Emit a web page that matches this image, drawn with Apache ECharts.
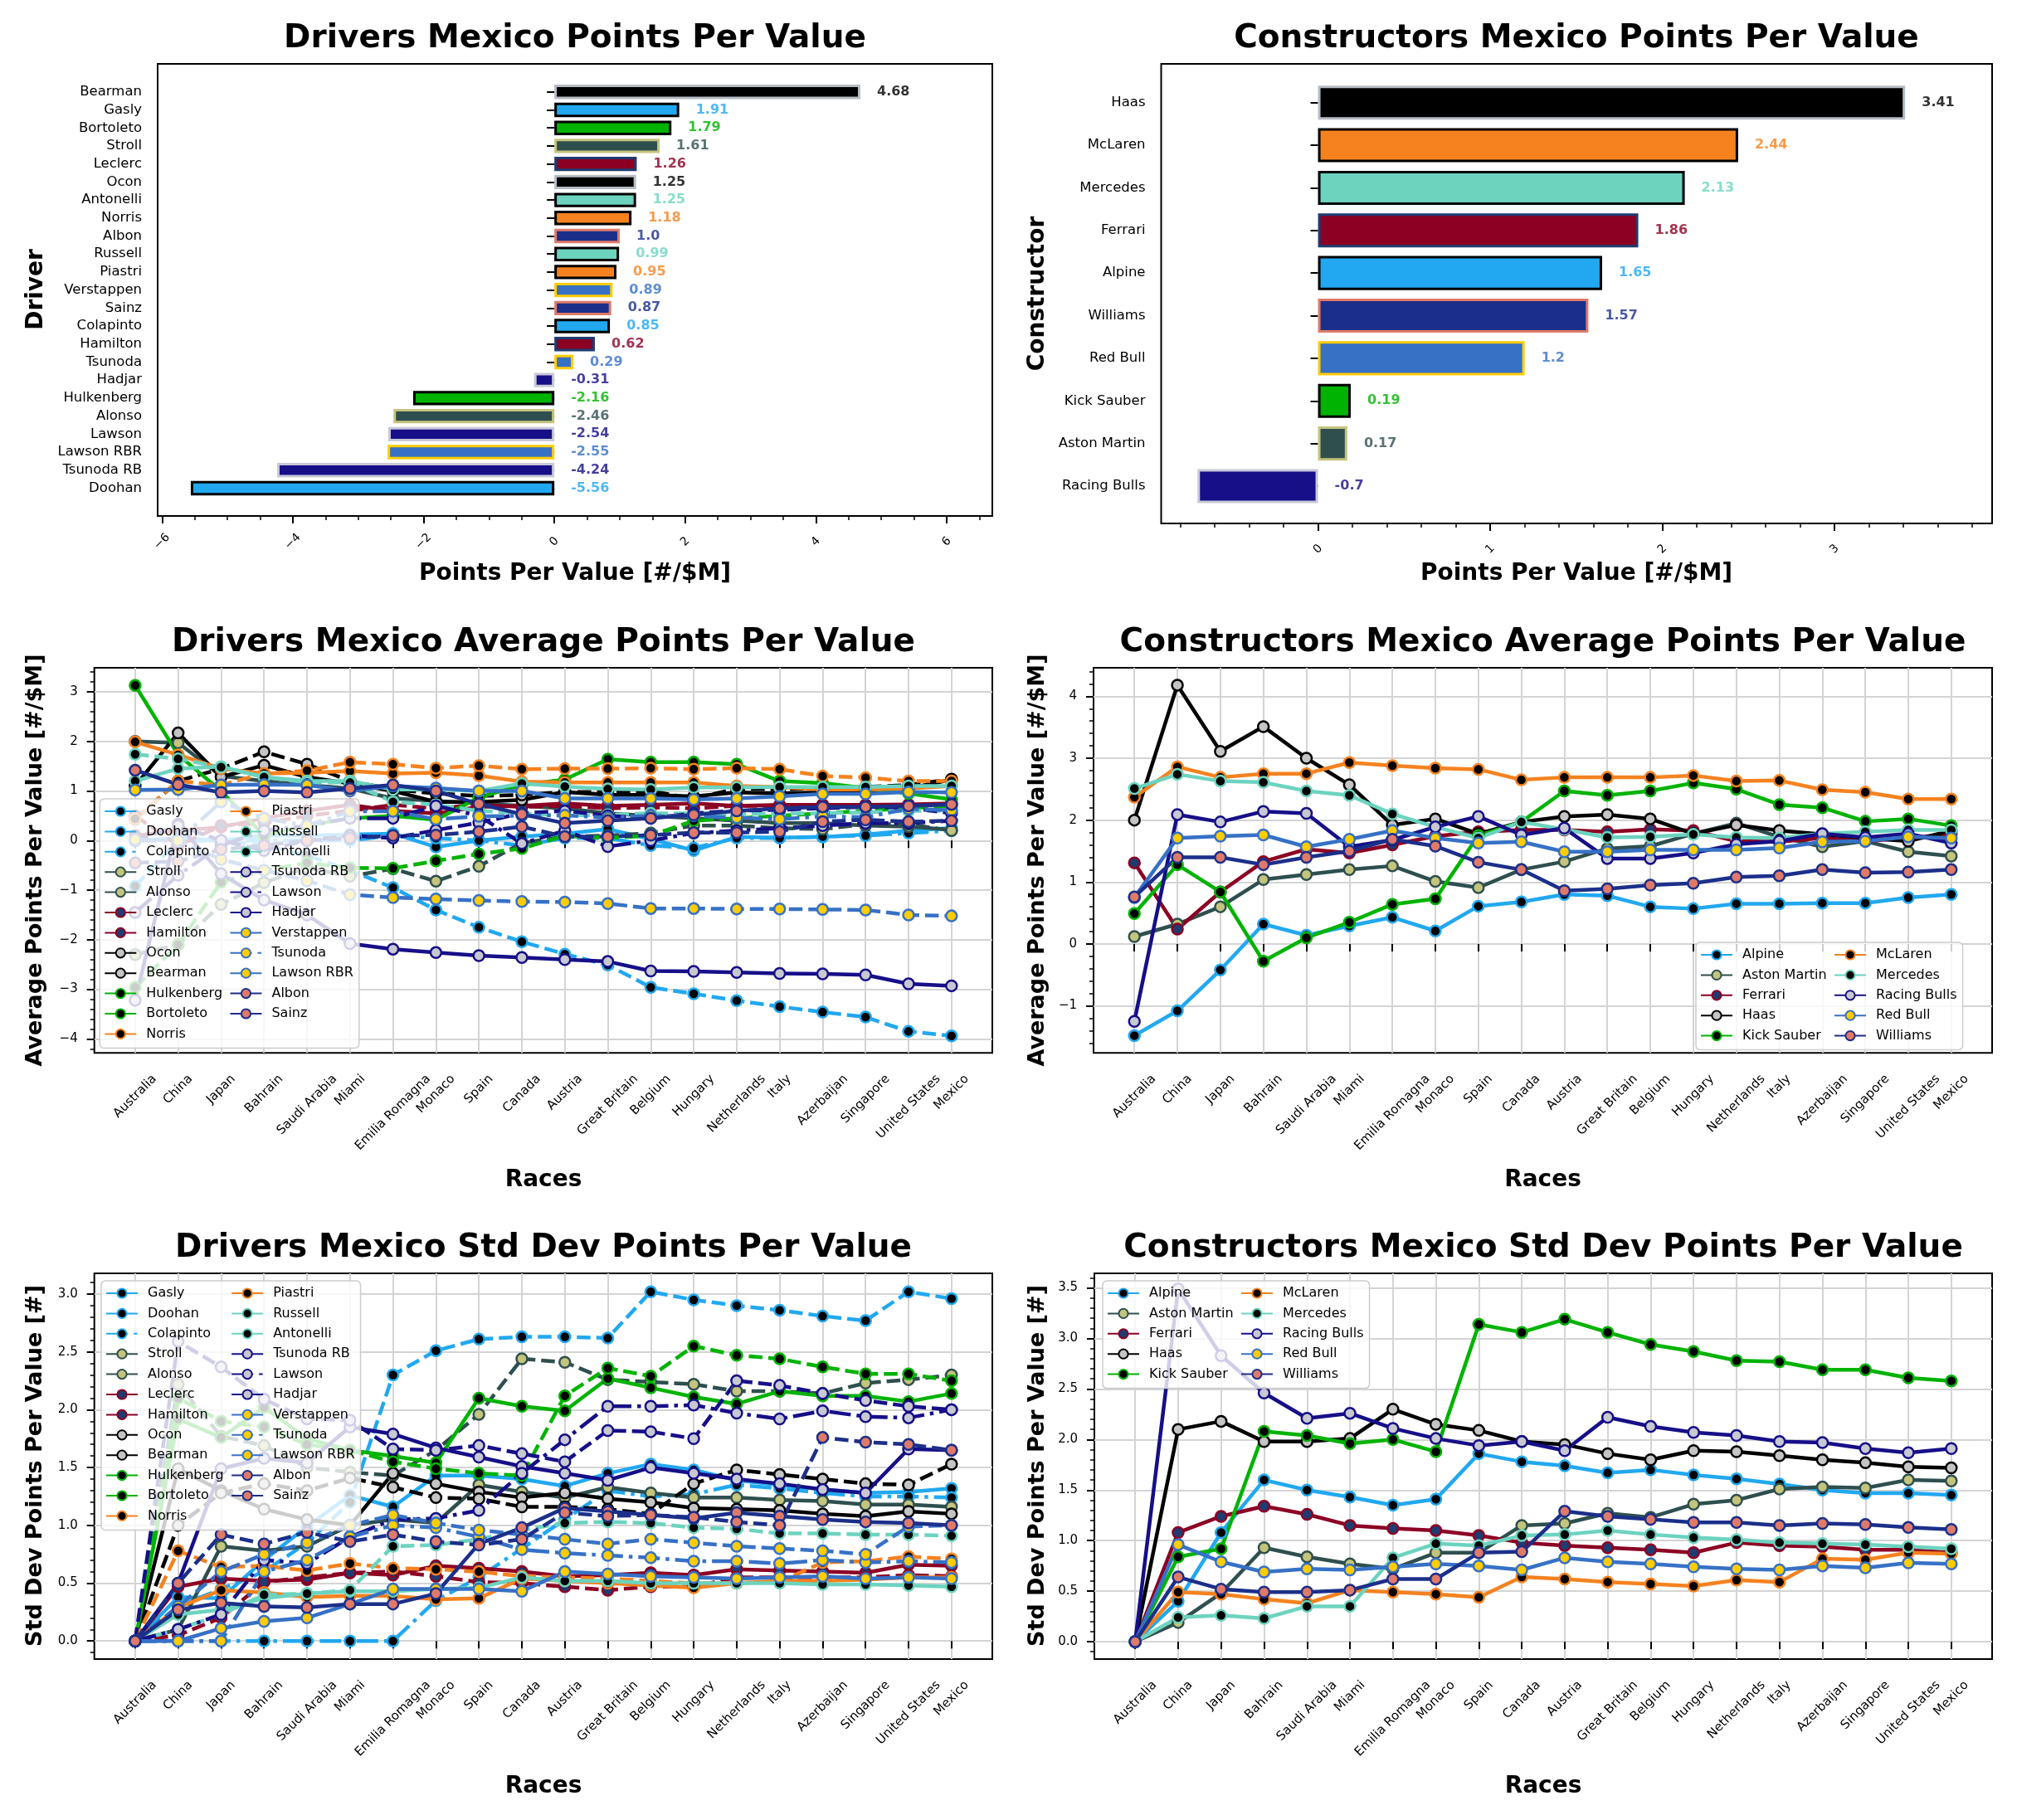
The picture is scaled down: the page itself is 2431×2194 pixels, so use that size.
<!DOCTYPE html>
<html><head><meta charset="utf-8">
<script src="https://cdn.jsdelivr.net/npm/echarts@6.0.0/dist/echarts.min.js"></script>
<style>html,body{margin:0;padding:0;background:#fff;}#chart{width:2431px;height:2194px;}</style>
</head><body><div id="chart"></div>
<script>
// ---------------- DATA ----------------
const races = ['Australia','China','Japan','Bahrain','Saudi Arabia','Miami','Emilia Romagna','Monaco','Spain','Canada','Austria','Great Britain','Belgium','Hungary','Netherlands','Italy','Azerbaijan','Singapore','United States','Mexico'];

const barDrivers = ['Bearman','Gasly','Bortoleto','Stroll','Leclerc','Ocon','Antonelli','Norris','Albon','Russell','Piastri','Verstappen','Sainz','Colapinto','Hamilton','Tsunoda','Hadjar','Hulkenberg','Alonso','Lawson','Lawson RBR','Tsunoda RB','Doohan'];
const barDriverValues = [4.68,1.91,1.79,1.61,1.26,1.25,1.25,1.18,1.0,0.99,0.95,0.89,0.87,0.85,0.62,0.29,-0.31,-2.16,-2.46,-2.54,-2.55,-4.24,-5.56];

const barTeams = ['Haas','McLaren','Mercedes','Ferrari','Alpine','Williams','Red Bull','Kick Sauber','Aston Martin','Racing Bulls'];
const barTeamValues = [3.41,2.44,2.13,1.86,1.65,1.57,1.2,0.19,0.17,-0.7];

const legendDrivers = ['Gasly','Doohan','Colapinto','Stroll','Alonso','Leclerc','Hamilton','Ocon','Bearman','Hulkenberg','Bortoleto','Norris','Piastri','Russell','Antonelli','Tsunoda RB','Lawson','Hadjar','Verstappen','Tsunoda','Lawson RBR','Albon','Sainz'];
const legendTeams = ['Alpine','Aston Martin','Ferrari','Haas','Kick Sauber','McLaren','Mercedes','Racing Bulls','Red Bull','Williams'];

// drivers: average points per value
const avgGasly      = [0.00,0.05,0.00,0.10,0.10,0.12,0.14,-0.13,0.00,0.08,0.14,0.23,0.03,-0.20,0.07,0.06,0.07,0.12,0.20,0.25];
const avgDoohan     = [-0.92,0.00,0.00,-0.10,-0.30,-0.60,-0.95,-1.40,-1.75,-2.04,-2.29,-2.51,-2.96,-3.09,-3.23,-3.35,-3.46,-3.56,-3.85,-3.94];
const avgColapinto  = [0,0,0,0,0,0,0.10,0.05,0.00,-0.10,0.05,0.05,-0.10,-0.15,0.05,0.05,0.08,0.10,0.15,0.20];
const avgStroll     = [2.00,1.97,1.30,1.20,1.12,1.05,0.85,0.80,0.75,0.70,0.65,0.55,0.50,0.45,0.40,0.35,0.35,0.30,0.28,0.22];
const avgAlonso     = [-2.30,-2.10,-1.29,-0.85,-0.55,-0.72,-0.57,-0.82,-0.52,-0.05,0.08,0.10,0.15,0.30,0.30,0.25,0.23,0.33,0.33,0.20];
const avgLeclerc    = [0.10,0.20,0.27,0.45,0.60,0.72,0.60,0.55,0.68,0.70,0.75,0.70,0.72,0.75,0.70,0.72,0.72,0.72,0.73,0.75];
const avgHamilton   = [0.50,-0.10,0.30,0.35,0.50,0.60,0.72,0.65,0.72,0.68,0.70,0.65,0.67,0.65,0.70,0.70,0.72,0.68,0.70,0.72];
const avgOcon       = [1.10,2.17,1.28,1.52,1.28,1.15,1.00,0.78,0.78,0.82,0.98,0.92,0.92,0.89,0.97,0.95,0.97,1.00,1.05,1.23];
const avgBearman    = [0.43,1.20,1.45,1.79,1.54,1.20,1.03,0.95,0.90,0.92,0.98,0.98,1.00,0.84,1.05,1.03,1.06,1.08,1.12,1.24];
const avgHulkenberg = [3.13,1.73,1.00,0.10,0.30,0.45,0.50,0.42,0.87,1.12,1.23,1.64,1.58,1.58,1.54,1.20,1.16,1.06,0.95,0.83];
const avgBortoleto  = [-2.96,-2.10,-0.84,-0.60,-0.45,-0.55,-0.56,-0.41,-0.27,-0.16,0.10,0.05,0.10,0.40,0.45,0.50,0.55,0.60,0.65,0.70];
const avgNorris     = [1.99,1.73,1.45,1.35,1.37,1.40,1.35,1.37,1.31,1.19,1.17,1.17,1.17,1.17,1.10,1.08,1.03,1.03,1.05,1.10];
const avgPiastri    = [0.44,1.20,1.12,1.35,1.41,1.58,1.54,1.46,1.51,1.44,1.45,1.45,1.46,1.44,1.46,1.44,1.30,1.27,1.20,1.20];
const avgRussell    = [1.20,1.45,1.49,1.28,1.20,1.20,1.03,1.03,1.00,1.15,1.09,1.04,1.03,1.07,1.07,1.08,1.08,1.08,1.10,1.10];
const avgAntonelli  = [1.74,1.65,1.48,1.28,1.17,1.17,0.78,0.72,0.60,0.55,0.50,0.52,0.55,0.55,0.53,0.55,0.55,0.57,0.60,0.60];
const avgTsunodaRB  = [-3.22,0.33,-0.67,-1.20,-1.50,-2.08,-2.19,-2.26,-2.32,-2.36,-2.40,-2.44,-2.63,-2.64,-2.66,-2.68,-2.69,-2.71,-2.89,-2.93];
const avgLawson     = [-1.45,-0.70,-0.10,0.20,0.30,0.45,0.45,0.70,0.50,-0.06,0.20,-0.12,0.00,0.15,0.20,0.25,0.30,0.35,0.35,0.40];
const avgHadjar     = [0.00,0.30,0.00,-0.20,0.00,0.10,0.05,0.21,0.36,0.55,0.60,0.50,0.45,0.55,0.60,0.62,0.65,0.68,0.66,0.55];
const avgVerstappen = [1.02,1.03,1.12,1.13,1.12,1.00,1.10,1.06,1.00,1.00,0.85,0.85,0.85,0.83,0.85,0.89,0.94,0.94,0.98,0.97];
const avgTsunoda    = [0.00,0.00,0.78,0.45,0.30,0.59,0.59,0.43,0.49,0.50,0.51,0.46,0.50,0.50,0.46,0.43,0.49,0.47,0.64,0.61];
const avgLawsonRBR  = [0.02,0.00,-0.38,-0.60,-0.81,-1.09,-1.15,-1.18,-1.21,-1.23,-1.24,-1.27,-1.37,-1.37,-1.38,-1.38,-1.39,-1.40,-1.50,-1.52];
const avgAlbon      = [1.42,1.13,0.97,1.00,0.97,1.05,1.12,1.00,0.74,0.53,0.35,0.40,0.45,0.52,0.60,0.65,0.68,0.68,0.70,0.73];
const avgSainz      = [-0.45,-0.42,-0.18,-0.10,0.00,0.05,0.10,0.11,0.18,0.28,0.08,0.08,0.11,0.16,0.16,0.18,0.38,0.42,0.38,0.40];

// drivers: std dev points per value
const stdGasly      = [0,0.38,0.37,0.70,0.99,1.26,1.16,1.43,1.43,1.40,1.34,1.45,1.53,1.48,1.39,1.35,1.31,1.28,1.29,1.32];
const stdDoohan     = [0,0.30,0.45,0.60,0.85,1.20,2.30,2.51,2.61,2.63,2.63,2.62,3.02,2.95,2.90,2.86,2.81,2.77,3.02,2.96];
const stdColapinto  = [0,0,0,0,0,0,0,0.35,0.55,0.80,1.05,1.30,1.25,1.27,1.35,1.32,1.28,1.25,1.25,1.24];
const stdStroll     = [0,0.10,0.82,0.78,0.82,1.00,1.05,1.02,1.35,1.29,1.24,1.33,1.28,1.24,1.24,1.22,1.21,1.18,1.18,1.16];
const stdAlonso     = [0,2.22,1.77,1.69,1.50,1.46,1.43,1.65,1.96,2.44,2.41,2.26,2.24,2.22,2.16,2.16,2.14,2.23,2.26,2.30];
const stdLeclerc    = [0,0.47,0.54,0.52,0.53,0.59,0.57,0.65,0.63,0.60,0.56,0.57,0.59,0.57,0.62,0.61,0.60,0.59,0.66,0.65];
const stdHamilton   = [0,0.05,0.20,0.51,0.55,0.59,0.60,0.56,0.51,0.50,0.47,0.44,0.47,0.47,0.55,0.55,0.55,0.55,0.57,0.56];
const stdOcon       = [0,1.49,1.30,1.14,1.05,1.00,1.45,1.36,1.29,1.24,1.28,1.23,1.20,1.15,1.14,1.13,1.10,1.08,1.12,1.10];
const stdBearman    = [0,1.00,1.28,1.36,1.30,1.41,1.33,1.24,1.23,1.16,1.16,1.14,1.10,1.36,1.48,1.44,1.40,1.36,1.35,1.53];
const stdHulkenberg = [0,1.92,1.76,2.02,1.75,1.65,1.60,1.54,2.10,2.03,1.99,2.27,2.19,2.11,2.05,2.16,2.12,2.12,2.07,2.14];
const stdBortoleto  = [0,2.10,1.90,1.85,1.70,1.65,1.55,1.49,1.45,1.43,2.12,2.36,2.29,2.55,2.47,2.44,2.37,2.31,2.31,2.25];
const stdNorris     = [0,0.29,0.44,0.42,0.38,0.39,0.39,0.36,0.37,0.54,0.52,0.50,0.48,0.46,0.50,0.52,0.52,0.53,0.55,0.55];
const stdPiastri    = [0,0.78,0.64,0.65,0.61,0.67,0.63,0.62,0.60,0.56,0.55,0.54,0.52,0.50,0.50,0.51,0.68,0.69,0.73,0.71];
const stdRussell    = [0,0.23,0.27,0.37,0.41,0.43,0.43,0.45,0.46,0.55,0.52,0.52,0.50,0.50,0.50,0.50,0.49,0.49,0.48,0.47];
const stdAntonelli  = [0,0.10,0.23,0.40,0.41,0.44,0.82,0.83,0.88,0.96,1.02,1.03,1.02,0.98,0.97,0.93,0.93,0.92,0.92,0.91];
const stdTsunodaRB  = [0,0.50,1.49,1.58,1.54,1.85,1.79,1.67,1.59,1.51,1.45,1.39,1.50,1.45,1.40,1.36,1.31,1.28,1.66,1.65];
const stdLawson     = [0,0.10,0.23,0.70,0.67,0.90,1.05,1.06,1.13,1.45,1.74,2.03,2.03,2.04,1.97,1.92,1.99,1.94,1.93,2.00];
const stdHadjar     = [0,2.59,2.37,2.09,1.92,1.91,1.66,1.65,1.69,1.62,1.55,1.82,1.81,1.75,2.25,2.21,2.14,2.08,2.03,2.00];
const stdVerstappen = [0,0,0.11,0.17,0.20,0.32,0.45,0.45,0.45,0.43,0.60,0.58,0.56,0.55,0.54,0.55,0.56,0.54,0.55,0.54];
const stdTsunoda    = [0,0,0,0.60,0.70,0.90,1.00,0.98,0.90,0.79,0.76,0.74,0.72,0.69,0.69,0.67,0.70,0.68,0.69,0.68];
const stdLawsonRBR  = [0,0.30,0.60,0.75,0.85,1.00,1.09,1.02,0.96,0.92,0.88,0.84,0.88,0.85,0.82,0.80,0.78,0.75,0.99,1.00];
const stdAlbon      = [0,0.27,0.33,0.30,0.29,0.32,0.32,0.41,0.84,0.98,1.15,1.12,1.09,1.06,1.11,1.08,1.05,1.03,1.02,1.00];
const stdSainz      = [0,0.50,0.92,0.84,0.94,0.86,0.92,0.86,0.83,0.88,1.11,1.08,1.09,1.07,1.03,1.00,1.76,1.72,1.70,1.65];

// constructors: average points per value
const avgAlpine      = [-1.48,-1.08,-0.42,0.32,0.14,0.29,0.43,0.21,0.61,0.68,0.80,0.78,0.60,0.57,0.65,0.65,0.66,0.66,0.75,0.80];
const avgAstonMartin = [0.12,0.32,0.60,1.04,1.12,1.20,1.26,1.01,0.91,1.20,1.33,1.54,1.58,1.78,1.95,1.73,1.57,1.66,1.49,1.42];
const avgFerrari     = [1.31,0.24,0.84,1.33,1.53,1.47,1.60,1.74,1.81,1.84,1.84,1.81,1.85,1.83,1.66,1.65,1.71,1.66,1.71,1.77];
const avgHaas        = [2.00,4.18,3.11,3.51,3.00,2.57,1.92,2.02,1.78,1.97,2.06,2.09,2.02,1.78,1.92,1.83,1.77,1.71,1.66,1.83];
const avgKickSauber  = [0.49,1.28,0.84,-0.28,0.10,0.35,0.64,0.73,1.75,1.97,2.47,2.40,2.47,2.60,2.50,2.25,2.20,1.98,2.02,1.91];
const avgMcLaren     = [2.37,2.86,2.69,2.75,2.75,2.93,2.88,2.84,2.82,2.65,2.69,2.69,2.69,2.72,2.63,2.64,2.49,2.45,2.34,2.34];
const avgMercedes    = [2.51,2.74,2.63,2.61,2.47,2.40,2.10,1.89,1.71,1.97,1.85,1.72,1.73,1.77,1.72,1.71,1.78,1.81,1.84,1.84];
const avgRacingBulls = [-1.25,2.09,1.97,2.14,2.11,1.57,1.68,1.89,2.06,1.76,1.87,1.38,1.38,1.47,1.61,1.66,1.78,1.72,1.78,1.63];
const avgRedBull     = [0.75,1.71,1.74,1.76,1.57,1.69,1.83,1.71,1.63,1.65,1.49,1.49,1.52,1.52,1.52,1.55,1.65,1.66,1.73,1.71];
const avgWilliams    = [0.76,1.40,1.40,1.28,1.40,1.50,1.69,1.58,1.32,1.20,0.86,0.89,0.95,0.98,1.08,1.10,1.20,1.15,1.16,1.20];

// constructors: std dev points per value
const stdAlpine      = [0,0.40,1.08,1.60,1.50,1.43,1.35,1.41,1.86,1.78,1.74,1.67,1.70,1.65,1.61,1.56,1.50,1.47,1.47,1.45];
const stdAstonMartin = [0,0.19,0.48,0.93,0.84,0.77,0.72,0.88,0.88,1.15,1.17,1.27,1.23,1.36,1.40,1.51,1.53,1.52,1.60,1.59];
const stdFerrari     = [0,1.08,1.24,1.34,1.26,1.15,1.12,1.10,1.05,0.98,0.95,0.93,0.91,0.88,0.98,0.95,0.94,0.91,0.91,0.88];
const stdHaas        = [0,2.10,2.18,1.98,1.98,2.01,2.30,2.15,2.09,1.98,1.95,1.86,1.80,1.89,1.88,1.84,1.80,1.77,1.73,1.72];
const stdKickSauber  = [0,0.84,0.92,2.08,2.04,1.96,2.00,1.88,3.14,3.06,3.19,3.06,2.94,2.87,2.78,2.77,2.69,2.69,2.61,2.58];
const stdMcLaren     = [0,0.49,0.47,0.42,0.38,0.51,0.49,0.47,0.44,0.64,0.62,0.59,0.57,0.55,0.61,0.59,0.82,0.81,0.88,0.87];
const stdMercedes    = [0,0.24,0.26,0.23,0.35,0.35,0.83,0.97,0.95,1.05,1.06,1.10,1.06,1.03,1.01,0.98,0.97,0.96,0.94,0.92];
const stdRacingBulls = [0,3.49,2.83,2.46,2.21,2.26,2.11,2.01,1.94,1.98,1.89,2.22,2.13,2.07,2.04,1.98,1.97,1.91,1.87,1.91];
const stdRedBull     = [0,0.96,0.79,0.69,0.72,0.71,0.74,0.77,0.75,0.71,0.83,0.79,0.77,0.74,0.72,0.71,0.75,0.73,0.78,0.77];
const stdWilliams    = [0,0.64,0.52,0.49,0.49,0.51,0.62,0.62,0.88,0.89,1.29,1.24,1.21,1.18,1.18,1.15,1.17,1.16,1.13,1.11];

const avgTicksDrivers = [-4,-3,-2,-1,0,1,2,3];
const avgTicksTeams = [-1,0,1,2,3,4];
const stdTicksDrivers = [0,0.5,1,1.5,2,2.5,3];
const stdTicksTeams = [0,0.5,1,1.5,2,2.5,3,3.5];
const barTicksDrivers = [-6,-4,-2,0,2,4,6];
const barTicksTeams = [0,1,2,3];

// ---------------- STYLE ----------------
const FONT = 'DejaVu Sans';
const TEAM = {
  'Alpine':       {line:'#21a8f0', fill:'#000000', edge:'#000000'},
  'Aston Martin': {line:'#2f4f4f', fill:'#c4c47c', edge:'#c4c47c'},
  'Ferrari':      {line:'#8c0023', fill:'#1e3c72', edge:'#1e3c72'},
  'Haas':         {line:'#000000', fill:'#c4c4c4', edge:'#b6bcc3'},
  'Kick Sauber':  {line:'#00b300', fill:'#000000', edge:'#000000'},
  'McLaren':      {line:'#f5821f', fill:'#000000', edge:'#000000'},
  'Mercedes':     {line:'#6cd3bf', fill:'#000000', edge:'#000000'},
  'Racing Bulls': {line:'#160f88', fill:'#c8c8d0', edge:'#c8c8d8'},
  'Red Bull':     {line:'#3671c6', fill:'#ffcc00', edge:'#ffcc00'},
  'Williams':     {line:'#1b2f8a', fill:'#e07a68', edge:'#e07a68'}
};
const DRIVER_TEAM = {Gasly:'Alpine',Doohan:'Alpine',Colapinto:'Alpine',Stroll:'Aston Martin',Alonso:'Aston Martin',Leclerc:'Ferrari',Hamilton:'Ferrari',Ocon:'Haas',Bearman:'Haas',Hulkenberg:'Kick Sauber',Bortoleto:'Kick Sauber',Norris:'McLaren',Piastri:'McLaren',Russell:'Mercedes',Antonelli:'Mercedes','Tsunoda RB':'Racing Bulls',Lawson:'Racing Bulls',Hadjar:'Racing Bulls',Verstappen:'Red Bull',Tsunoda:'Red Bull','Lawson RBR':'Red Bull',Albon:'Williams',Sainz:'Williams'};
const DASH = {solid:'solid', dash:[16.5,7], dashdot:[26,7,4.5,7]};
const DRIVER_DASH = {Gasly:'solid',Doohan:'dash',Colapinto:'dashdot',Stroll:'solid',Alonso:'dash',Leclerc:'solid',Hamilton:'dash',Ocon:'solid',Bearman:'dash',Hulkenberg:'solid',Bortoleto:'dash',Norris:'solid',Piastri:'dash',Russell:'solid',Antonelli:'dash','Tsunoda RB':'solid',Lawson:'dashdot',Hadjar:'dash',Verstappen:'solid',Tsunoda:'dashdot','Lawson RBR':'dash',Albon:'solid',Sainz:'dash'};

const AVG_DRIVER = {Gasly:avgGasly,Doohan:avgDoohan,Colapinto:avgColapinto,Stroll:avgStroll,Alonso:avgAlonso,Leclerc:avgLeclerc,Hamilton:avgHamilton,Ocon:avgOcon,Bearman:avgBearman,Hulkenberg:avgHulkenberg,Bortoleto:avgBortoleto,Norris:avgNorris,Piastri:avgPiastri,Russell:avgRussell,Antonelli:avgAntonelli,'Tsunoda RB':avgTsunodaRB,Lawson:avgLawson,Hadjar:avgHadjar,Verstappen:avgVerstappen,Tsunoda:avgTsunoda,'Lawson RBR':avgLawsonRBR,Albon:avgAlbon,Sainz:avgSainz};
const STD_DRIVER = {Gasly:stdGasly,Doohan:stdDoohan,Colapinto:stdColapinto,Stroll:stdStroll,Alonso:stdAlonso,Leclerc:stdLeclerc,Hamilton:stdHamilton,Ocon:stdOcon,Bearman:stdBearman,Hulkenberg:stdHulkenberg,Bortoleto:stdBortoleto,Norris:stdNorris,Piastri:stdPiastri,Russell:stdRussell,Antonelli:stdAntonelli,'Tsunoda RB':stdTsunodaRB,Lawson:stdLawson,Hadjar:stdHadjar,Verstappen:stdVerstappen,Tsunoda:stdTsunoda,'Lawson RBR':stdLawsonRBR,Albon:stdAlbon,Sainz:stdSainz};
const AVG_TEAM = {'Alpine':avgAlpine,'Aston Martin':avgAstonMartin,'Ferrari':avgFerrari,'Haas':avgHaas,'Kick Sauber':avgKickSauber,'McLaren':avgMcLaren,'Mercedes':avgMercedes,'Racing Bulls':avgRacingBulls,'Red Bull':avgRedBull,'Williams':avgWilliams};
const STD_TEAM = {'Alpine':stdAlpine,'Aston Martin':stdAstonMartin,'Ferrari':stdFerrari,'Haas':stdHaas,'Kick Sauber':stdKickSauber,'McLaren':stdMcLaren,'Mercedes':stdMercedes,'Racing Bulls':stdRacingBulls,'Red Bull':stdRedBull,'Williams':stdWilliams};

const F = {
  TL:{left:190, top:77, right:1196, bottom:622},
  TR:{left:1399.5, top:77, right:2401, bottom:631},
  ML:{left:113.7, top:805, right:1196, bottom:1269.3},
  MR:{left:1318, top:805, right:2401, bottom:1269.3},
  BL:{left:113.7, top:1535, right:1196, bottom:2000},
  BR:{left:1319, top:1535, right:2401, bottom:2000}
};

// ---------------- BUILD ----------------
const grid=[], xAxis=[], yAxis=[], series=[], legend=[], graphic=[];
const raceLabelAxes = [];
const minus = v => (v < 0 ? '\u2212' : '') + Math.abs(v);
const oneDec = v => v.toFixed(1);
function range(a, b, s){ const out=[]; for(let v=a; v<=b+1e-9; v+=s) out.push(Math.round(v*1000)/1000); return out; }

function addGrid(l,t,r,b,show){
  grid.push({left:l, top:t, width:r-l, height:b-t, show:!!show, borderColor:'#000', borderWidth:2,
    backgroundColor:'rgba(0,0,0,0)', containLabel:false, outerBoundsMode:'none'});
  return grid.length-1;
}

const LABEL_FS = 15;
const mctx = document.createElement('canvas').getContext('2d');
mctx.font = LABEL_FS + 'px "' + FONT + '"';

function barChart(f, names, values, teamOf, min, max, majors, minors, dataTop, dataBottom){
  const gf = addGrid(f.left, f.top, f.right, f.bottom, true);
  xAxis.push({gridIndex:gf, type:'value', min, max, position:'bottom', axisLine:{show:false}, splitLine:{show:false},
    axisTick:{show:true, customValues:majors, length:9, lineStyle:{color:'#000', width:2}},
    axisLabel:{show:true, customValues:majors, rotate:45, align:'center', verticalAlign:'middle', margin:31,
      fontSize:14, color:'#000', fontFamily:FONT, formatter:minus}});
  xAxis.push({gridIndex:gf, type:'value', min, max, position:'bottom', axisLine:{show:false}, splitLine:{show:false},
    axisTick:{show:true, customValues:minors, length:5, lineStyle:{color:'#000', width:1.5}}, axisLabel:{show:false}});
  yAxis.push({gridIndex:gf, type:'value', min:0, max:1, show:false});
  const gd = addGrid(f.left, dataTop, f.right, dataBottom, false);
  const xi = xAxis.push({gridIndex:gd, type:'value', min, max, show:false}) - 1;
  const yi = yAxis.push({gridIndex:gd, type:'category', data:names, inverse:true, position:'left',
    axisLine:{show:false}, splitLine:{show:false},
    axisTick:{show:true, alignWithLabel:true, length:9, lineStyle:{color:'#000', width:2}},
    axisLabel:{interval:0, fontSize:16.5, color:'#000', margin:19, fontFamily:FONT}}) - 1;
  series.push({type:'bar', xAxisIndex:xi, yAxisIndex:yi, barCategoryGap:'20%', silent:true, animation:false,
    data: values.map((v,i) => { const t = TEAM[teamOf(names[i])];
      return {value:v, itemStyle:{color:t.line, borderColor:t.edge, borderWidth:3}}; })});
  series.push({type:'scatter', xAxisIndex:xi, yAxisIndex:yi, symbolSize:0.1, silent:true, animation:false,
    itemStyle:{color:'rgba(0,0,0,0)'},
    label:{show:true, position:'right', distance:20, fontSize:16, fontWeight:'bold', fontFamily:FONT},
    data: values.map((v,i) => { const t = TEAM[teamOf(names[i])];
      return {value:[Math.max(v,0), names[i]],
        label:{color:t.line, formatter:(Number.isInteger(v) ? v.toFixed(1) : String(v))}}; })});
}

function lineChart(f, ymin, ymax, majors, minors, fmt, names, dataOf, styleOf){
  const gf = addGrid(f.left, f.top, f.right, f.bottom, true);
  xAxis.push({gridIndex:gf, type:'value', min:0, max:1, show:false});
  yAxis.push({gridIndex:gf, type:'value', min:ymin, max:ymax, position:'left', axisLine:{show:false},
    axisTick:{show:true, customValues:majors, length:9, lineStyle:{color:'#000', width:2}},
    axisLabel:{show:true, customValues:majors, formatter:fmt, fontSize:15, color:'#000', margin:20, fontFamily:FONT},
    splitLine:{show:true, customValues:majors, lineStyle:{color:'#d4d4d4', width:2}}});
  yAxis.push({gridIndex:gf, type:'value', min:ymin, max:ymax, position:'left', axisLine:{show:false}, splitLine:{show:false},
    axisTick:{show:true, customValues:minors, length:5, lineStyle:{color:'#000', width:1.5}}, axisLabel:{show:false}});
  const inset = 0.95 * (f.right - f.left) / 20.9;
  const gd = addGrid(f.left + inset, f.top, f.right - inset, f.bottom, false);
  const xi = xAxis.push({gridIndex:gd, type:'category', data:races, boundaryGap:false, position:'bottom',
    axisLine:{show:false},
    axisTick:{show:true, interval:0, length:9, lineStyle:{color:'#000', width:2}},
    axisLabel:{show:false},
    splitLine:{show:true, interval:0, lineStyle:{color:'#d4d4d4', width:2}}}) - 1;
  const yi = yAxis.push({gridIndex:gd, type:'value', min:ymin, max:ymax, show:false}) - 1;
  raceLabelAxes.push({xi, bottom:f.bottom});
  names.forEach(n => {
    const s = styleOf(n);
    series.push({type:'line', name:n, xAxisIndex:xi, yAxisIndex:yi, data:dataOf(n), clip:false, animation:false,
      symbol:'circle', symbolSize:13, showSymbol:true, silent:true,
      lineStyle:{color:s.line, width:4.5, type:s.dash, cap:'butt', join:'round'},
      itemStyle:{color:s.fill, borderColor:s.line, borderWidth:2.5}});
  });
}

function legendCfg(names, col1, left, top, w1, height){
  return {orient:'vertical', left, top, height, padding:[7,7,9,5], itemWidth:38, itemHeight:14, itemGap:8.4,
    selectedMode:false, backgroundColor:'rgba(255,255,255,0.8)', borderColor:'#cccccc', borderWidth:1.5, borderRadius:5,
    textStyle:{fontSize:16, color:'#000', padding:[0,0,0,7], fontFamily:FONT},
    data:names.map((n,i) => i < col1 ? {name:n, textStyle:{width:w1}} : {name:n})};
}

const driverStyle = n => { const t = TEAM[DRIVER_TEAM[n]]; return {line:t.line, fill:t.fill, dash:DASH[DRIVER_DASH[n]]}; };
const teamStyle = n => { const t = TEAM[n]; return {line:t.line, fill:t.fill, dash:'solid'}; };

barChart(F.TL, barDrivers, barDriverValues, n => DRIVER_TEAM[n], -6.067, 6.698, barTicksDrivers, range(-6,6.5,0.5), 99.95, 599.3);
barChart(F.TR, barTeams, barTeamValues, n => n, -0.911, 3.915, barTicksTeams, range(-0.8,3.8,0.2), 98, 611.7);

lineChart(F.ML, -4.284, 3.485, avgTicksDrivers, range(-4.2,3.4,0.2), minus, legendDrivers, n => AVG_DRIVER[n], driverStyle);
lineChart(F.MR, -1.76, 4.46, avgTicksTeams, range(-1.6,4.4,0.2), minus, legendTeams, n => AVG_TEAM[n], teamStyle);
lineChart(F.BL, -0.156, 3.179, stdTicksDrivers, range(-0.1,3.1,0.1), oneDec, legendDrivers, n => STD_DRIVER[n], driverStyle);
lineChart(F.BR, -0.172, 3.644, stdTicksTeams, range(-0.1,3.6,0.1), oneDec, legendTeams, n => STD_TEAM[n], teamStyle);

legend.push(legendCfg(legendDrivers, 12, 120.3, 963, 119.9, 295));
legend.push(legendCfg(legendDrivers, 12, 122, 1544, 119.9, 295));
legend.push(legendCfg(legendTeams, 5, 2044, 1136, 128.6, 125));
legend.push(legendCfg(legendTeams, 5, 1329, 1544, 128.6, 125));

function txt(text, x, y, size, rot, weight){
  graphic.push({type:'text', x, y, rotation: rot || 0, silent:true,
    style:{text, fill:'#000', font:(weight || 'bold') + ' ' + size + 'px "' + FONT + '"', fontSize:size, fontWeight:(weight || 'bold'), fontFamily:FONT,
      align:'center', verticalAlign:'middle', textAlign:'center', textVerticalAlign:'middle'}});
}
const R90 = Math.PI/2;
txt('Drivers Mexico Points Per Value', 693, 47, 39);
txt('Constructors Mexico Points Per Value', 1900, 47, 39);
txt('Drivers Mexico Average Points Per Value', 655, 775, 39);
txt('Constructors Mexico Average Points Per Value', 1859.5, 775, 39);
txt('Drivers Mexico Std Dev Points Per Value', 655, 1505, 39);
txt('Constructors Mexico Std Dev Points Per Value', 1860, 1505, 39);
txt('Points Per Value [#/$M]', 693, 692, 28);
txt('Points Per Value [#/$M]', 1900, 692, 28);
txt('Races', 655, 1423, 28);
txt('Races', 1859.5, 1423, 28);
txt('Races', 655, 2154, 28);
txt('Races', 1860, 2154, 28);
txt('Driver', 44, 349, 28, R90);
txt('Constructor', 1251, 354, 28, R90);
txt('Average Points Per Value [#/$M]', 43, 1037, 27, R90);
txt('Average Points Per Value [#/$M]', 1251, 1037, 27, R90);
txt('Std Dev Points Per Value [#]', 43, 1767, 27, R90);
txt('Std Dev Points Per Value [#]', 1251, 1767, 27, R90);

const chart = echarts.init(document.getElementById('chart'), null, {renderer:'canvas', width:2431, height:2194});
chart.setOption({
  animation:false, backgroundColor:'#ffffff',
  textStyle:{fontFamily:FONT},
  grid, xAxis, yAxis, series, legend, graphic
});

// race tick labels: rotated 45°, centred under each tick (positions from the category axis scale)
raceLabelAxes.forEach(a => {
  races.forEach((r, i) => {
    const x = chart.convertToPixel({xAxisIndex:a.xi}, i);
    const w = mctx.measureText(r).width;
    const cy = a.bottom + 23 + 0.3536 * (w + 17);
    txt(r, x, cy, LABEL_FS, Math.PI/4, 'normal');
  });
});
chart.setOption({graphic});
</script></body></html>
